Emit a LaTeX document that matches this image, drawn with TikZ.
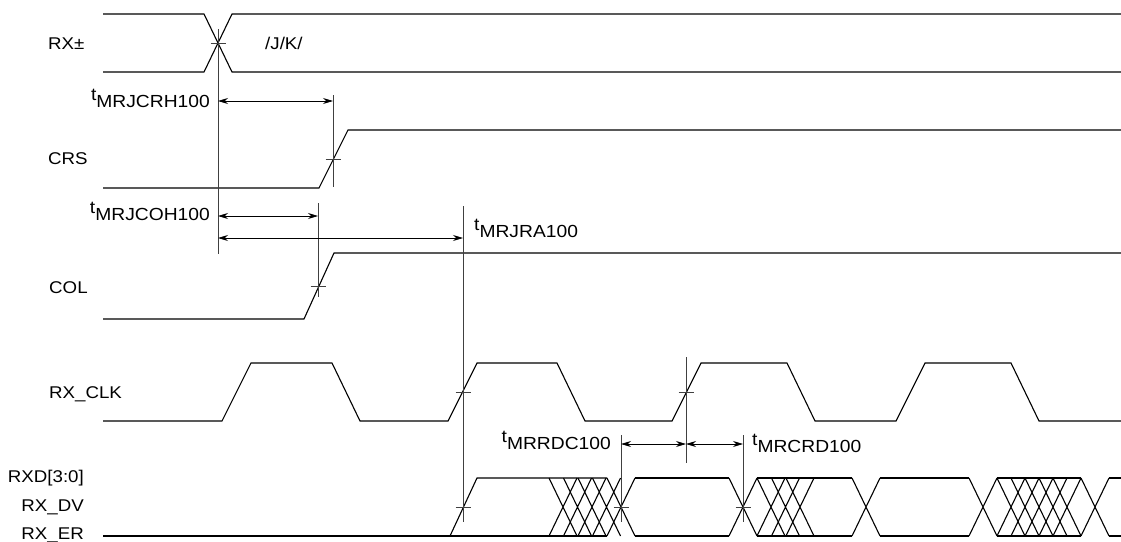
\documentclass[tikz,border=0pt]{standalone}
\usepackage{fontspec}
\setmainfont{Liberation Sans}
\newfontfamily\breitfont[FakeStretch=1.1]{Liberation Sans}
\usetikzlibrary{arrows.meta}

\newcommand{\tzeit}[1]{t\raisebox{-0.45em}{#1}}

\begin{document}
\begin{tikzpicture}[x=1pt,y=-1pt,
	sig/.style={line width=1.1pt},
	hilf/.style={line width=0.7pt,black!75},
	mass/.style={line width=0.8pt,{Stealth[length=10pt,width=6pt]}-{Stealth[length=10pt,width=6pt]}},
	lbl/.style={font=\breitfont\fontsize{17}{20}\selectfont,inner sep=0pt},
	tlbl/.style={font=\breitfont\fontsize{17.5}{20}\selectfont,inner sep=0pt}]

	\useasboundingbox (0,0) rectangle (1121,541);

	% Anfang und Ende der Signale
	\def\xa{103}
	\def\xe{1121}

	% Kreuzungspunkte
	\coordinate (K1) at (218,43);
	\coordinate (K2) at (333,159);
	\coordinate (K3) at (318,286);
	\coordinate (K4) at (463,392);
	\coordinate (K5) at (686,392);
	\coordinate (K6) at (463,507);
	\coordinate (K7) at (621,507);
	\coordinate (K8) at (743,507);

	% Signalnamen
	\node[lbl,anchor=base west] (rx) at (48,49) {RX±};
	\node[lbl,anchor=base west] (crs) at (48,164) {CRS};
	\node[lbl,anchor=base west] (col) at (49,293) {COL};
	\node[lbl,anchor=base west] (clk) at (49,398) {RX\_CLK};
	\node[lbl,anchor=base east] (rxd) at (84,482) {RXD[3:0]};
	\node[lbl,anchor=base east] (dv) at (84,511) {RX\_DV};
	\node[lbl,anchor=base east] (er) at (84,539) {RX\_ER};
	\node[lbl,anchor=base west] (jk) at (265,49) {/J/K/};

	% RX+-
	\draw[sig] (\xa,14) -- (204,14) -- (232,72) -- (\xe,72);
	\draw[sig] (\xa,72) -- (204,72) -- (232,14) -- (\xe,14);

	% CRS
	\draw[sig] (\xa,188) -- (319,188) -- (348,130) -- (\xe,130);

	% COL
	\draw[sig] (\xa,319) -- (304,319) -- (334,253) -- (\xe,253);

	% RX_CLK
	\draw[sig] (\xa,421) -- (222,421) -- (251,363) -- (332,363) -- (360,421)
		-- (448,421) -- (477,363) -- (557,363) -- (585,421)
		-- (672,421) -- (701,363) -- (787,363) -- (815,421)
		-- (896,421) -- (925,363) -- (1011,363) -- (1039,421) -- (\xe,421);

	% RXD / RX_DV / RX_ER
	\draw[sig] (\xa,536) -- (607,536);
	\draw[sig] (450,536) -- (477,478) -- (607,478);
	\foreach \a in {549,563.5,578,592.5,607}
		\draw[sig] (\a,478) -- ++(28,58) (\a,536) -- ++(28,-58);
	\draw[sig] (635,478) -- (729,478) (635,536) -- (729,536);
	\foreach \a in {729,757,771.5,786}
		\draw[sig] (\a,478) -- ++(28,58) (\a,536) -- ++(28,-58);
	\draw[sig] (757,478) -- (852,478) (757,536) -- (852,536);
	\draw[sig] (852,478) -- ++(28,58) (852,536) -- ++(28,-58);
	\draw[sig] (880,478) -- (969,478) (880,536) -- (969,536);
	\foreach \a in {969,997,1011,1025,1039,1053,1081}
		\draw[sig] (\a,478) -- ++(28,58) (\a,536) -- ++(28,-58);
	\draw[sig] (997,478) -- (1081,478) (997,536) -- (1081,536);
	\draw[sig] (1109,478) -- (\xe,478) (1109,536) -- (\xe,536);

	% Hilfslinien
	\draw[hilf] (218,29) -- (218,254);
	\draw[hilf] (333,95) -- (333,187);
	\draw[hilf] (318,203) -- (318,297);
	\draw[hilf] (463,206) -- (463,522);
	\draw[hilf] (686,357) -- (686,463);
	\draw[hilf] (621,435) -- (621,522);
	\draw[hilf] (743,435) -- (743,522);

	% Kreuze
	\foreach \k in {K1,K2,K3,K4,K5,K6,K7,K8}
		\draw[hilf] (\k) ++(-7.5,0) -- ++(15,0);

	% Zeitpfeile
	\draw[mass] (218,101) -- (333,101);
	\draw[mass] (218,216) -- (318,216);
	\draw[mass] (218,238) -- (463,238);
	\draw[mass] (621,444) -- (686,444);
	\draw[mass] (686,444) -- (743,444);

	% Zeitbeschriftungen
	\node[tlbl,anchor=base east] (tcrh) at (210,100) {\tzeit{MRJCRH100}};
	\node[tlbl,anchor=base east] (tcoh) at (210,213) {\tzeit{MRJCOH100}};
	\node[tlbl,anchor=base west] (tra) at (474,230) {\tzeit{MRJRA100}};
	\node[tlbl,anchor=base east] (trdc) at (611,442) {\tzeit{MRRDC100}};
	\node[tlbl,anchor=base west] (tcrd) at (752,445) {\tzeit{MRCRD100}};

\end{tikzpicture}
\end{document}
